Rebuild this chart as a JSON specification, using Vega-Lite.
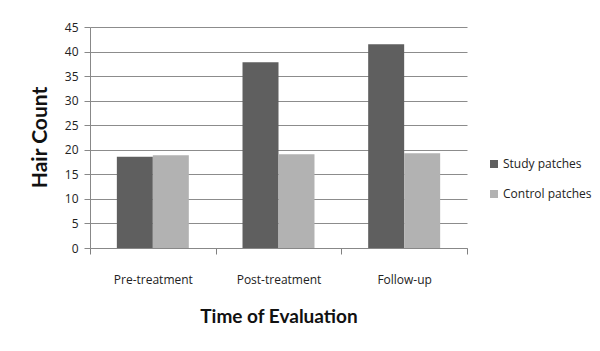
{
  "$schema": "https://vega.github.io/schema/vega-lite/v6.json",
  "autosize": {"type": "none"},
  "padding": {"left": 90, "top": 27, "right": 133, "bottom": 103},
  "width": 377,
  "height": 221,
  "background": "white",
  "data": {"values": [
    {"time": "Pre-treatment", "group": "Study patches", "count": 18.6},
    {"time": "Pre-treatment", "group": "Control patches", "count": 18.9},
    {"time": "Post-treatment", "group": "Study patches", "count": 37.8},
    {"time": "Post-treatment", "group": "Control patches", "count": 19.1},
    {"time": "Follow-up", "group": "Study patches", "count": 41.5},
    {"time": "Follow-up", "group": "Control patches", "count": 19.3}
  ]},
  "mark": {"type": "bar"},
  "encoding": {
    "x": {
      "field": "time", "type": "nominal", "sort": ["Pre-treatment", "Post-treatment", "Follow-up"],
      "scale": {"paddingInner": 0, "paddingOuter": 0},
      "axis": {
        "title": "Time of Evaluation", "labelAngle": 0, "labelFont": "Open Sans", "labelFontSize": 12, "labelColor": "#222",
        "labelPadding": 20, "tickBand": "extent", "ticks": true, "tickSize": 6, "tickColor": "#808080", "domainColor": "#888",
        "titleFont": "Lato", "titleFontSize": 19, "titleFontWeight": "bold", "titleColor": "#111", "titlePadding": 22
      }
    },
    "xOffset": {"field": "group", "type": "nominal", "sort": ["Study patches", "Control patches"], "scale": {"paddingInner": 0, "paddingOuter": 0.746}},
    "y": {
      "field": "count", "type": "quantitative",
      "scale": {"domain": [0, 45], "nice": false},
      "axis": {
        "title": "Hair Count", "values": [0, 5, 10, 15, 20, 25, 30, 35, 40, 45], "grid": true, "gridColor": "#8c8c8c",
        "tickColor": "#888", "domainColor": "#888", "tickSize": 6, "labelFont": "Open Sans", "labelFontSize": 12, "labelColor": "#222",
        "labelPadding": 6, "titleFont": "Lato", "titleFontSize": 21, "titleFontWeight": "bold", "titleColor": "#111",
        "titleX": -50, "titleY": 110, "titleAnchor": "middle", "titleAlign": "center", "titleBaseline": "middle"
      }
    },
    "color": {
      "field": "group", "type": "nominal", "sort": ["Study patches", "Control patches"],
      "scale": {"domain": ["Study patches", "Control patches"], "range": ["#5f5f5f", "#b2b2b2"]},
      "legend": {
        "title": null, "orient": "none", "legendX": 398, "legendY": 131, "symbolType": "square", "symbolSize": 64,
        "symbolStrokeWidth": 0, "labelFont": "Open Sans", "labelFontSize": 12, "labelColor": "#222", "rowPadding": 18, "labelOffset": 3
      }
    }
  },
  "config": {"view": {"stroke": null}, "axis": {"gridWidth": 1}}
}
